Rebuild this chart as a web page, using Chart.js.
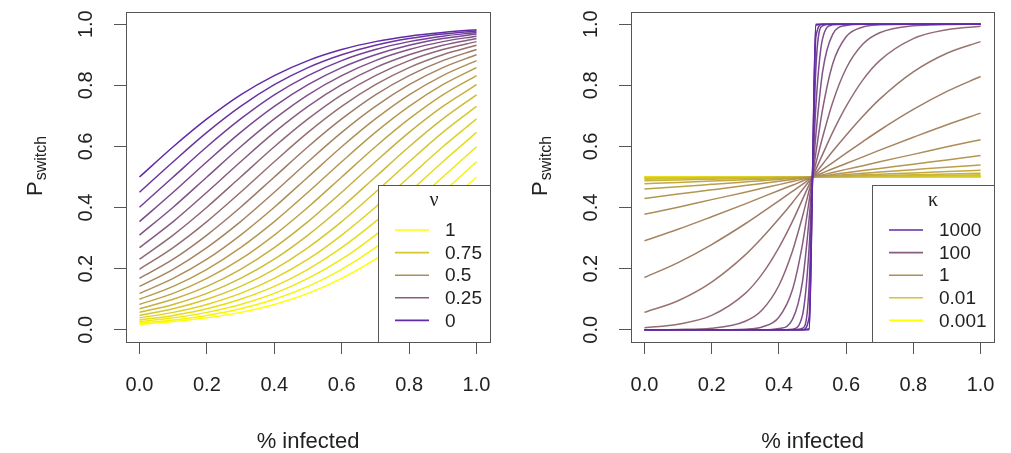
<!DOCTYPE html>
<html>
<head>
<meta charset="utf-8">
<script src="https://cdn.jsdelivr.net/npm/chart.js@4.4.0/dist/chart.umd.min.js"></script>
<style>
  body { margin: 0; background: #fff; }
  #wrap { position: relative; width: 1011px; height: 453px; }
  canvas { position: absolute; top: 0; }
  #nuChart { left: 0; }
  #kappaChart { left: 505px; }
</style>
</head>
<body>
<div id="wrap">
  <canvas id="nuChart" width="505" height="453"></canvas>
  <canvas id="kappaChart" width="506" height="453"></canvas>
</div>
<script>
// ---------------- DATA -----------------------------

const axisTicks = [0, 0.2, 0.4, 0.6, 0.8, 1];

// LEFT PANEL: one curve per nu (0 = top purple ... 1 = bottom yellow)
const nuValues = [0, 0.05, 0.1, 0.15, 0.2, 0.25, 0.3, 0.35, 0.4, 0.45, 0.5,
  0.55, 0.6, 0.65, 0.7, 0.75, 0.8, 0.85, 0.9, 0.95, 1];
const nuInfected = [0, 0.1, 0.2, 0.3, 0.4, 0.5, 0.6, 0.7, 0.8, 0.9, 1];
const nuCurves = [
  [0.500, 0.599, 0.690, 0.769, 0.832, 0.881, 0.917, 0.943, 0.961, 0.973, 0.982],
  [0.450, 0.550, 0.646, 0.731, 0.802, 0.858, 0.900, 0.931, 0.953, 0.968, 0.978],
  [0.401, 0.500, 0.599, 0.690, 0.769, 0.832, 0.881, 0.917, 0.943, 0.961, 0.973],
  [0.354, 0.450, 0.550, 0.646, 0.731, 0.802, 0.858, 0.900, 0.931, 0.953, 0.968],
  [0.310, 0.401, 0.500, 0.599, 0.690, 0.769, 0.832, 0.881, 0.917, 0.943, 0.961],
  [0.269, 0.354, 0.450, 0.550, 0.646, 0.731, 0.802, 0.858, 0.900, 0.931, 0.953],
  [0.231, 0.310, 0.401, 0.500, 0.599, 0.690, 0.769, 0.832, 0.881, 0.917, 0.943],
  [0.198, 0.269, 0.354, 0.450, 0.550, 0.646, 0.731, 0.802, 0.858, 0.900, 0.931],
  [0.168, 0.231, 0.310, 0.401, 0.500, 0.599, 0.690, 0.769, 0.832, 0.881, 0.917],
  [0.142, 0.198, 0.269, 0.354, 0.450, 0.550, 0.646, 0.731, 0.802, 0.858, 0.900],
  [0.119, 0.168, 0.231, 0.310, 0.401, 0.500, 0.599, 0.690, 0.769, 0.832, 0.881],
  [0.100, 0.142, 0.198, 0.269, 0.354, 0.450, 0.550, 0.646, 0.731, 0.802, 0.858],
  [0.083, 0.119, 0.168, 0.231, 0.310, 0.401, 0.500, 0.599, 0.690, 0.769, 0.832],
  [0.069, 0.100, 0.142, 0.198, 0.269, 0.354, 0.450, 0.550, 0.646, 0.731, 0.802],
  [0.057, 0.083, 0.119, 0.168, 0.231, 0.310, 0.401, 0.500, 0.599, 0.690, 0.769],
  [0.047, 0.069, 0.100, 0.142, 0.198, 0.269, 0.354, 0.450, 0.550, 0.646, 0.731],
  [0.039, 0.057, 0.083, 0.119, 0.168, 0.231, 0.310, 0.401, 0.500, 0.599, 0.690],
  [0.032, 0.047, 0.069, 0.100, 0.142, 0.198, 0.269, 0.354, 0.450, 0.550, 0.646],
  [0.027, 0.039, 0.057, 0.083, 0.119, 0.168, 0.231, 0.310, 0.401, 0.500, 0.599],
  [0.022, 0.032, 0.047, 0.069, 0.100, 0.142, 0.198, 0.269, 0.354, 0.450, 0.550],
  [0.018, 0.027, 0.039, 0.057, 0.083, 0.119, 0.168, 0.231, 0.310, 0.401, 0.500],
];
const nuLegendLabels = ["1", "0.75", "0.5", "0.25", "0"];

// RIGHT PANEL: one curve per kappa (0.001 flat yellow ... 1000 step purple)
const kappaValues = [0.001, 0.0018, 0.0032, 0.0056, 0.01, 0.018, 0.032, 0.056,
  0.1, 0.18, 0.32, 0.56, 1, 1.8, 3.2, 5.6, 10, 18, 32, 56, 100, 178, 316, 562, 1000];
const kappaInfected = [0, 0.1, 0.2, 0.3, 0.35, 0.4, 0.44, 0.47, 0.49, 0.5,
  0.51, 0.53, 0.56, 0.6, 0.65, 0.7, 0.8, 0.9, 1];
const kappaCurves = [
  [0.500, 0.500, 0.500, 0.500, 0.500, 0.500, 0.500, 0.500, 0.500, 0.5, 0.500, 0.500, 0.500, 0.500, 0.500, 0.500, 0.500, 0.500, 0.500],
  [0.500, 0.500, 0.500, 0.500, 0.500, 0.500, 0.500, 0.500, 0.500, 0.5, 0.500, 0.500, 0.500, 0.500, 0.500, 0.500, 0.500, 0.500, 0.500],
  [0.500, 0.500, 0.500, 0.500, 0.500, 0.500, 0.500, 0.500, 0.500, 0.5, 0.500, 0.500, 0.500, 0.500, 0.500, 0.500, 0.500, 0.500, 0.500],
  [0.499, 0.499, 0.500, 0.500, 0.500, 0.500, 0.500, 0.500, 0.500, 0.5, 0.500, 0.500, 0.500, 0.500, 0.500, 0.500, 0.500, 0.501, 0.501],
  [0.499, 0.499, 0.499, 0.500, 0.500, 0.500, 0.500, 0.500, 0.500, 0.5, 0.500, 0.500, 0.500, 0.500, 0.500, 0.500, 0.501, 0.501, 0.501],
  [0.498, 0.498, 0.499, 0.499, 0.499, 0.500, 0.500, 0.500, 0.500, 0.5, 0.500, 0.500, 0.500, 0.500, 0.501, 0.501, 0.501, 0.502, 0.502],
  [0.496, 0.497, 0.498, 0.498, 0.499, 0.499, 0.500, 0.500, 0.500, 0.5, 0.500, 0.500, 0.500, 0.501, 0.501, 0.502, 0.502, 0.503, 0.504],
  [0.493, 0.494, 0.496, 0.497, 0.498, 0.499, 0.499, 0.500, 0.500, 0.5, 0.500, 0.500, 0.501, 0.501, 0.502, 0.503, 0.504, 0.506, 0.507],
  [0.488, 0.490, 0.493, 0.495, 0.496, 0.498, 0.499, 0.499, 0.500, 0.5, 0.500, 0.501, 0.501, 0.502, 0.504, 0.505, 0.507, 0.510, 0.512],
  [0.478, 0.482, 0.487, 0.491, 0.493, 0.496, 0.497, 0.499, 0.500, 0.5, 0.500, 0.501, 0.503, 0.504, 0.507, 0.509, 0.513, 0.518, 0.522],
  [0.461, 0.468, 0.476, 0.484, 0.488, 0.492, 0.495, 0.498, 0.499, 0.5, 0.501, 0.502, 0.505, 0.508, 0.512, 0.516, 0.524, 0.532, 0.539],
  [0.430, 0.444, 0.458, 0.472, 0.479, 0.486, 0.492, 0.496, 0.499, 0.5, 0.501, 0.504, 0.508, 0.514, 0.521, 0.528, 0.542, 0.556, 0.570],
  [0.378, 0.401, 0.426, 0.450, 0.463, 0.475, 0.485, 0.493, 0.498, 0.5, 0.502, 0.507, 0.515, 0.525, 0.537, 0.550, 0.574, 0.599, 0.622],
  [0.291, 0.329, 0.370, 0.412, 0.434, 0.456, 0.473, 0.487, 0.496, 0.5, 0.504, 0.513, 0.527, 0.544, 0.566, 0.588, 0.630, 0.671, 0.709],
  [0.171, 0.220, 0.279, 0.347, 0.384, 0.422, 0.453, 0.476, 0.492, 0.5, 0.508, 0.524, 0.547, 0.578, 0.616, 0.653, 0.721, 0.780, 0.829],
  [0.057, 0.095, 0.156, 0.245, 0.301, 0.363, 0.416, 0.458, 0.486, 0.5, 0.514, 0.542, 0.584, 0.637, 0.699, 0.755, 0.844, 0.905, 0.943],
  [0.007, 0.018, 0.047, 0.119, 0.182, 0.269, 0.354, 0.426, 0.475, 0.5, 0.525, 0.574, 0.646, 0.731, 0.818, 0.881, 0.953, 0.982, 0.993],
  [0.000, 0.001, 0.005, 0.028, 0.065, 0.145, 0.256, 0.370, 0.456, 0.5, 0.544, 0.630, 0.744, 0.855, 0.935, 0.972, 0.995, 0.999, 1.000],
  [0.000, 0.000, 0.000, 0.002, 0.009, 0.041, 0.130, 0.279, 0.422, 0.5, 0.578, 0.721, 0.870, 0.959, 0.991, 0.998, 1.000, 1.000, 1.000],
  [0.000, 0.000, 0.000, 0.000, 0.000, 0.004, 0.033, 0.156, 0.363, 0.5, 0.637, 0.844, 0.967, 0.996, 1.000, 1.000, 1.000, 1.000, 1.000],
  [0.000, 0.000, 0.000, 0.000, 0.000, 0.000, 0.002, 0.047, 0.269, 0.5, 0.731, 0.953, 0.998, 1.000, 1.000, 1.000, 1.000, 1.000, 1.000],
  [0.000, 0.000, 0.000, 0.000, 0.000, 0.000, 0.000, 0.005, 0.145, 0.5, 0.855, 0.995, 1.000, 1.000, 1.000, 1.000, 1.000, 1.000, 1.000],
  [0.000, 0.000, 0.000, 0.000, 0.000, 0.000, 0.000, 0.000, 0.041, 0.5, 0.959, 1.000, 1.000, 1.000, 1.000, 1.000, 1.000, 1.000, 1.000],
  [0.000, 0.000, 0.000, 0.000, 0.000, 0.000, 0.000, 0.000, 0.004, 0.5, 0.996, 1.000, 1.000, 1.000, 1.000, 1.000, 1.000, 1.000, 1.000],
  [0.000, 0.000, 0.000, 0.000, 0.000, 0.000, 0.000, 0.000, 0.000, 0.5, 1.000, 1.000, 1.000, 1.000, 1.000, 1.000, 1.000, 1.000, 1.000],
];
const kappaLegendLabels = ["1000", "100", "1", "0.01", "0.001"];

// ---------------- STYLE -----------------------------

const sansFont = "'Liberation Sans', Arial, sans-serif";
const serifFont = "'Liberation Serif', 'DejaVu Serif', serif";
const inkColor = "#222";
const frameColor = "#555";

// yellow -> tan -> purple, t = 0 .. 1
const rampStops = [[255, 255, 0], [172, 142, 88], [98, 42, 168]];
function rampColor(t) {
  const seg = t < 0.5 ? 0 : 1;
  const f = t < 0.5 ? t / 0.5 : (t - 0.5) / 0.5;
  const a = rampStops[seg], b = rampStops[seg + 1];
  const c = a.map((v, i) => Math.round(v + (b[i] - v) * f));
  return `rgb(${c[0]}, ${c[1]}, ${c[2]})`;
}
const legendColors = [0, 0.25, 0.5, 0.75, 1].map(rampColor);

Chart.defaults.font.family = sansFont;
Chart.defaults.color = inkColor;

// R-like frame, rotated y labels, axis titles and inset legend
const rStylePlugin = {
  id: "rStyle",
  afterDatasetsDraw(chart, args, opts) {
    const { ctx, chartArea: a, scales } = chart;
    ctx.save();

    // legend box
    const lx = a.right - opts.legendWidth;
    const ly = 185;
    ctx.fillStyle = "#fff";
    ctx.fillRect(lx, ly, a.right - lx, a.bottom - ly);
    ctx.strokeStyle = frameColor;
    ctx.lineWidth = 1;
    ctx.strokeRect(lx + 0.5, ly + 0.5, a.right - lx, a.bottom - ly);

    ctx.fillStyle = inkColor;
    ctx.textBaseline = "middle";
    ctx.textAlign = "center";
    ctx.font = "20px " + serifFont;
    ctx.fillText(opts.legendTitle, lx + (a.right - lx) / 2, 201);

    ctx.textAlign = "left";
    ctx.font = "19px " + sansFont;
    opts.legendLabels.forEach((lab, i) => {
      const y = 230 + i * 22.6;
      ctx.strokeStyle = opts.legendColors[i];
      ctx.lineWidth = 1.6;
      ctx.beginPath();
      ctx.moveTo(lx + 17, y);
      ctx.lineTo(lx + 51, y);
      ctx.stroke();
      ctx.fillText(lab, lx + 67, y + 1);
    });

    // plot frame
    ctx.strokeStyle = frameColor;
    ctx.lineWidth = 1;
    ctx.strokeRect(a.left + 0.5, a.top + 0.5, a.right - a.left, a.bottom - a.top);

    // y tick labels, parallel to the axis
    ctx.fillStyle = inkColor;
    ctx.font = "20px " + sansFont;
    ctx.textAlign = "center";
    ctx.textBaseline = "alphabetic";
    axisTicks.forEach((v) => {
      const y = scales.y.getPixelForValue(v);
      ctx.save();
      ctx.translate(92, y);
      ctx.rotate(-Math.PI / 2);
      ctx.fillText(v.toFixed(1), 0, 0);
      ctx.restore();
    });

    // y title: P with subscript
    ctx.save();
    ctx.translate(42, 196);
    ctx.rotate(-Math.PI / 2);
    ctx.textAlign = "left";
    ctx.font = "22px " + sansFont;
    ctx.fillText("P", 0, 0);
    const pw = ctx.measureText("P").width;
    ctx.font = "16px " + sansFont;
    ctx.fillText("switch", pw + 1, 4);
    ctx.restore();

    // x title
    ctx.textAlign = "center";
    ctx.font = "22px " + sansFont;
    ctx.fillText("% infected", (a.left + a.right) / 2, 448);

    ctx.restore();
  },
};

function makeScales() {
  const setTicks = (s) => { s.ticks = axisTicks.map((v) => ({ value: v })); };
  const noPad = (s) => { s.paddingLeft = 0; s.paddingRight = 0; s.paddingTop = 0; s.paddingBottom = 0; };
  const grid = { drawOnChartArea: false, tickLength: 12, color: frameColor, lineWidth: 1 };
  return {
    x: {
      type: "linear",
      min: -0.04,
      max: 1.04,
      afterBuildTicks: setTicks,
      afterFit: (s) => { s.height = 111; noPad(s); },
      grid: grid,
      border: { display: false },
      ticks: {
        font: { size: 20 },
        color: inkColor,
        padding: 19,
        maxRotation: 0,
        autoSkip: false,
        callback: (v) => v.toFixed(1),
      },
    },
    y: {
      type: "linear",
      min: -0.04,
      max: 1.04,
      afterBuildTicks: setTicks,
      afterFit: (s) => { s.width = 126; noPad(s); },
      grid: grid,
      border: { display: false },
      ticks: { display: false },
    },
  };
}

function makeConfig(datasets, rightPad, legend) {
  return {
    type: "line",
    data: { datasets: datasets },
    options: {
      responsive: false,
      animation: false,
      devicePixelRatio: 1,
      layout: { padding: { top: 12, right: rightPad, left: 0, bottom: 0 } },
      elements: { point: { radius: 0 } },
      scales: makeScales(),
      plugins: {
        legend: { display: false },
        tooltip: { enabled: false },
        rStyle: legend,
      },
    },
    plugins: [rStylePlugin],
  };
}

// LEFT CHART
const nuDatasets = nuCurves.map((ys, i) => ({
  label: "nu " + nuValues[i],
  data: nuInfected.map((x, k) => ({ x: x, y: ys[k] })),
  borderColor: rampColor(1 - nuValues[i]),
  borderWidth: 1.5,
  fill: false,
  cubicInterpolationMode: "monotone",
}));

const nuChart = new Chart(document.getElementById("nuChart"), makeConfig(nuDatasets, 15, {
  legendWidth: 112,
  legendTitle: "\u03bd",
  legendLabels: nuLegendLabels,
  legendColors: legendColors,
}));

// RIGHT CHART (large kappa first so it is drawn on top)
const kappaDatasets = kappaCurves.map((ys, i) => ({
  label: "kappa " + kappaValues[i],
  data: kappaInfected.map((x, k) => ({ x: x, y: ys[k] })),
  borderColor: rampColor(i / (kappaCurves.length - 1)),
  borderWidth: 1.5,
  fill: false,
  cubicInterpolationMode: "monotone",
})).reverse();

const kappaChart = new Chart(document.getElementById("kappaChart"), makeConfig(kappaDatasets, 17, {
  legendWidth: 122,
  legendTitle: "\u03ba",
  legendLabels: kappaLegendLabels,
  legendColors: legendColors.slice().reverse(),
}));
</script>
</body>
</html>
